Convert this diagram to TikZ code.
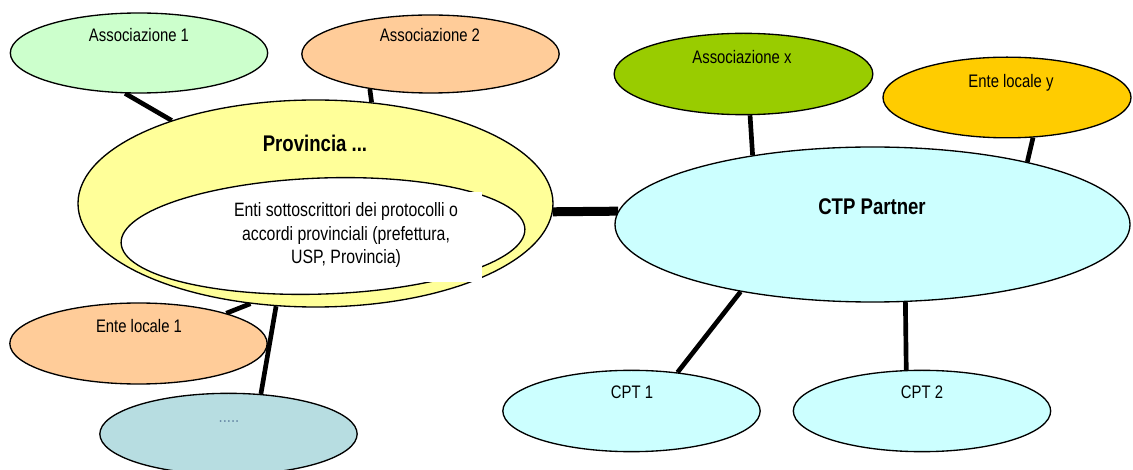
\documentclass[tikz,border=0pt]{standalone}
\usepackage{fontspec}
\setmainfont{Liberation Sans}[FakeStretch=0.82]
\usetikzlibrary{shapes.geometric, backgrounds}
\definecolor{verdino}{HTML}{CCFFCC}
\definecolor{pesca}{HTML}{FFCC99}
\definecolor{oliva}{HTML}{99CC00}
\definecolor{arancio}{HTML}{FFCC00}
\definecolor{giallino}{HTML}{FFFF99}
\definecolor{azzurrino}{HTML}{CCFFFF}
\definecolor{grigioblu}{HTML}{B7DDE1}
\definecolor{puntini}{HTML}{6A8CA8}
\def\enti{Enti sottoscrittori dei protocolli o\\accordi provinciali (prefettura,\\USP, Provincia)}

\begin{document}
\begin{tikzpicture}[x=0.75pt, y=-0.75pt,
	bolla/.style={ellipse, draw, line width=1pt, inner sep=0pt, minimum width=193pt, minimum height=61pt},
	scritta/.style={anchor=base, font=\fontsize{13.6}{16}\selectfont},
	titolo/.style={anchor=base, font=\bfseries\fontsize{17}{20}\selectfont},
	filo/.style={line width=3.5pt}]
	\useasboundingbox (0,0) rectangle (1133,470);
	% bolle
	\node[bolla, fill=verdino, minimum height=60pt] (ass1) at (139,53) {};
	\node[bolla, fill=pesca, minimum height=58.5pt] (ass2) at (430.5,54) {};
	\node[bolla, fill=oliva, minimum width=194pt] (assx) at (743.5,74) {};
	\node[bolla, fill=arancio, minimum width=186pt, minimum height=60.5pt] (entey) at (1007,97.5) {};
	\node[bolla, fill=giallino, minimum width=356.25pt, minimum height=155.25pt] (prov) at (315.5,203.5) {};
	\node[bolla, fill=white, minimum width=303pt, minimum height=87pt, rotate=2] (sottoscr) at (323,236) {};
	\fill[white] (420,192) rectangle (482,282);
	\node[bolla, fill=azzurrino, minimum width=386.25pt, minimum height=116.25pt] (ctp) at (872.5,224.5) {};
	\node[bolla, fill=pesca, minimum height=60.75pt] (ente1) at (138.5,343.5) {};
	\node[bolla, fill=grigioblu] (punti) at (228.5,434) {};
	\node[bolla, fill=azzurrino] (cpt1) at (631.5,411) {};
	\node[bolla, fill=azzurrino] (cpt2) at (922,411) {};
	% collegamenti
	\begin{scope}[on background layer]
		\draw[filo] (ass1.251) -- (prov.150);
		\draw[filo] (ass2.210) -- (prov.61.6);
		\draw[filo] (assx.279) -- (ctp.150.9);
		\draw[filo] (entey.303.3) -- (ctp.22.7);
		\draw[filo, line width=6.75pt] (prov.358) -- (ctp.177.2);
		\draw[filo] (prov.237.5) -- (ente1.19.1);
		\draw[filo] (prov.249.9) -- (punti.51.6);
		\draw[filo] (ctp.207.1) -- (cpt1.40.9);
		\draw[filo] (ctp.293.6) -- (cpt2.111.5);
	\end{scope}
	% testi
	\node[scritta] (ass1t) at (139,41.5) {Associazione 1};
	\node[scritta] (ass2t) at (430,41.5) {Associazione 2};
	\node[scritta] (assxt) at (742,64) {Associazione x};
	\node[scritta] (enteyt) at (1011,88) {Ente locale y};
	\node[titolo] (provt) at (315,151.5) {Provincia ...};
	\node[align=center, font=\fontsize{14.5}{17.6}\selectfont] (sottoscrt) at (346,235) {\enti};
	\node[titolo] (ctpt) at (872,215) {CTP Partner};
	\node[scritta] (ente1t) at (139,332.5) {Ente locale 1};
	\node[scritta, text=puntini] (puntit) at (229,423) {.....};
	\node[scritta] (cpt1t) at (632,399) {CPT 1};
	\node[scritta] (cpt2t) at (922,399) {CPT 2};
\end{tikzpicture}
\end{document}
